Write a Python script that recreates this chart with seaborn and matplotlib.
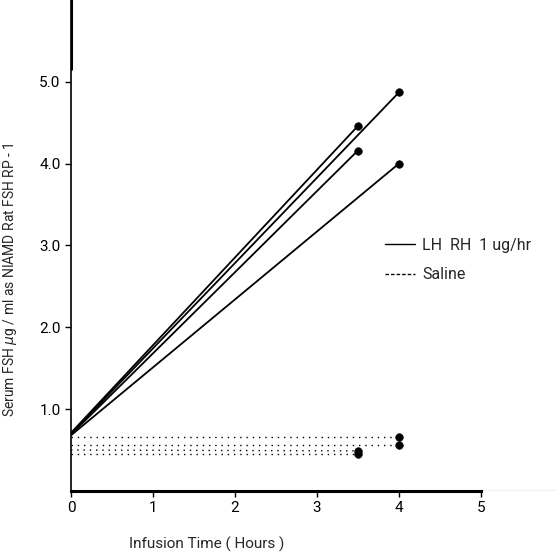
import pandas as pd
import numpy as np
import matplotlib.pyplot as plt
import seaborn as sb
from matplotlib.lines import Line2D

# LH-RH infused animals: start (0 h) and end values
lh_start = [0.70, 0.71, 0.69, 0.68]
lh_end_time = [4.0, 3.5, 3.5, 4.0]
lh_end = [4.87, 4.46, 4.16, 4.00]

# saline animals (flat)
sal_start = [0.66, 0.56, 0.50, 0.45]
sal_end_time = [4.0, 4.0, 3.5, 3.5]
sal_end = [0.66, 0.56, 0.49, 0.45]

xticks = [0, 1, 2, 3, 4, 5]
yticks = [1.0, 2.0, 3.0, 4.0, 5.0]
ylabels = ["1.0", "2.0", "3.0", "4.0", "5.0"]

rows = []
for i in range(4):
    rows.append(("lh%d" % i, "LH", 0.0, lh_start[i]))
    rows.append(("lh%d" % i, "LH", lh_end_time[i], lh_end[i]))
    rows.append(("s%d" % i, "Saline", 0.0, sal_start[i]))
    rows.append(("s%d" % i, "Saline", sal_end_time[i], sal_end[i]))
df = pd.DataFrame(rows, columns=["run", "group", "time", "fsh"])
ends = df[df.time > 0]

sb.set_style("white")
plt.rcParams["font.family"] = ["Roboto", "DejaVu Sans"]

fig = plt.figure(figsize=(5.57, 5.56), dpi=100)
ax = fig.add_axes([0.1275, 0.117, 0.8726, 0.883])

lh = df[df.group == "LH"]
sal = df[df.group == "Saline"]
sb.lineplot(data=lh, x="time", y="fsh", units="run", estimator=None,
            color="black", lw=1.3, ax=ax, legend=False)
for r, g in sal.groupby("run"):
    ax.plot(g.time, g.fsh, color="black", lw=1.0, linestyle=(0, (1, 3.5)))
sb.scatterplot(data=ends, x="time", y="fsh", color="black", s=30,
               edgecolor="black", ax=ax, legend=False, zorder=5)

ax.set_xlim(0, 5.93)
ax.set_ylim(0, 6.0)
ax.set_xticks(xticks)
ax.set_yticks(yticks)
ax.set_yticklabels(ylabels)
ax.tick_params(axis="both", direction="out", length=4, width=1, labelsize=11,
               colors="black", left=True, bottom=True)
for s in ["top", "right"]:
    ax.spines[s].set_visible(False)
ax.spines["left"].set_linewidth(1.2)
ax.spines["left"].set_color("black")
ax.spines["bottom"].set_bounds(0, 5)
ax.spines["bottom"].set_linewidth(2.2)
ax.spines["bottom"].set_color("black")
ax.axhline(0, color="black", lw=0.8)
ax.axvline(0, ymin=0.86, ymax=1.0, color="black", lw=2.2)

ax.set_xlabel("Infusion Time ( Hours )", fontsize=11)
ax.set_ylabel("Serum FSH $\\mu$g / ml as NIAMD Rat FSH RP - 1", fontsize=10)
ax.xaxis.set_label_coords(0.28, -0.093)
ax.yaxis.set_label_coords(-0.108, 0.43)

handles = [Line2D([], [], color="black", lw=1.0),
           Line2D([], [], color="black", lw=1.0, linestyle=(0, (2.5, 1.5)))]
ax.legend(handles, ["LH  RH  1 ug/hr", "Saline"], loc="upper left",
          bbox_to_anchor=(0.665, 0.598), bbox_transform=fig.transFigure,
          frameon=False, fontsize=11.5, handlelength=1.9, handletextpad=0.45,
          labelspacing=0.9)

plt.savefig("out.png", dpi=100)
